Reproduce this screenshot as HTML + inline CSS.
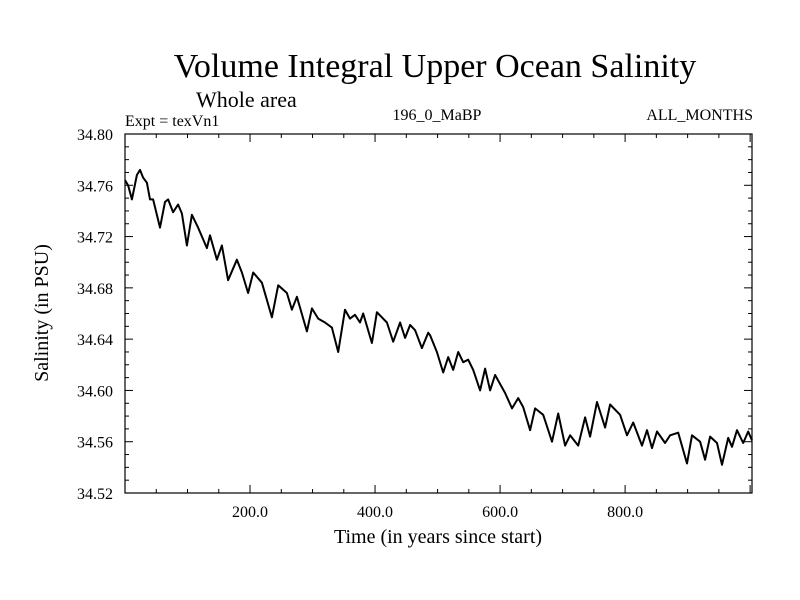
<!DOCTYPE html>
<html><head><meta charset="utf-8"><style>
html,body{margin:0;padding:0;background:#fff;}
svg{display:block;font-family:"Liberation Serif",serif;}
</style></head><body>
<svg id="chart" width="800" height="600" xmlns="http://www.w3.org/2000/svg">
<text x="435" y="77" font-size="34" text-anchor="middle">Volume Integral Upper Ocean Salinity</text>
<text x="196" y="107" font-size="22">Whole area</text>
<text x="125" y="126" font-size="16">Expt = texVn1</text>
<text x="437" y="120" font-size="16" text-anchor="middle">196_0_MaBP</text>
<text x="753" y="120" font-size="16" text-anchor="end">ALL_MONTHS</text>
<text transform="translate(48,313) rotate(-90)" font-size="20" text-anchor="middle">Salinity (in PSU)</text>
<text x="438" y="543" font-size="20" text-anchor="middle">Time (in years since start)</text>
<g id="axes"></g>
<rect x="125" y="134" width="627" height="359" fill="none" stroke="#000" stroke-width="1.2"/>
<path id="line" fill="none" stroke="#000" stroke-width="2" stroke-linejoin="round"/>
</svg>
<script>
const years=[0,5,11,19,24,29,35,40,45,56,64,69,77,85,91,99,107,117,131,136,147,155,165,179,187,197,205,219,235,245,259,267,275,291,299,309,320,331,341,352,360,368,376,381,395,403,419,429,440,448,456,464,475,485,488,499,509,517,525,533,541,549,557,568,576,584,592,608,619,629,637,648,656,669,683,693,704,712,725,736,744,755,768,776,792,803,813,827,835,843,851,864,872,885,899,907,920,928,936,947,955,965,971,979,989,997,1003];
const salinity=[34.764,34.760,34.749,34.768,34.772,34.766,34.762,34.749,34.749,34.727,34.747,34.749,34.739,34.745,34.738,34.713,34.737,34.727,34.711,34.721,34.702,34.713,34.686,34.702,34.692,34.676,34.692,34.684,34.657,34.682,34.676,34.663,34.673,34.646,34.664,34.656,34.653,34.649,34.630,34.663,34.656,34.659,34.653,34.660,34.637,34.661,34.653,34.638,34.653,34.641,34.651,34.647,34.633,34.645,34.643,34.630,34.614,34.626,34.616,34.630,34.622,34.624,34.616,34.600,34.617,34.600,34.612,34.598,34.586,34.594,34.587,34.569,34.586,34.581,34.560,34.582,34.557,34.565,34.557,34.579,34.564,34.591,34.571,34.589,34.581,34.565,34.575,34.557,34.569,34.555,34.568,34.559,34.565,34.567,34.543,34.565,34.560,34.546,34.564,34.559,34.542,34.563,34.556,34.569,34.559,34.568,34.561];
const yTicks=[34.52,34.56,34.60,34.64,34.68,34.72,34.76,34.80];
const yTickLabels=["34.52","34.56","34.60","34.64","34.68","34.72","34.76","34.80"];
const xTicks=[200,400,600,800];
const xTickLabels=["200.0","400.0","600.0","800.0"];
const X0=125,X1=752,Y0=493,Y1=134,XMIN=0,XMAX=1003,YMIN=34.52,YMAX=34.80;
const sx=v=>X0+(v-XMIN)/(XMAX-XMIN)*(X1-X0);
const sy=v=>Y0-(v-YMIN)/(YMAX-YMIN)*(Y0-Y1);
const NS="http://www.w3.org/2000/svg";
const g=document.getElementById('axes');
function ln(x1,y1,x2,y2,name){const l=document.createElementNS(NS,'line');
l.setAttribute('x1',x1);l.setAttribute('y1',y1);l.setAttribute('x2',x2);l.setAttribute('y2',y2);
l.setAttribute('stroke','#000');l.setAttribute('stroke-width','1');


g.appendChild(l);}
function tx(x,y,s,anchor,name){const t=document.createElementNS(NS,'text');
t.setAttribute('x',x);t.setAttribute('y',y);t.setAttribute('font-size','16');t.setAttribute('text-anchor',anchor);t.textContent=s;


g.appendChild(t);}
for(let v=YMIN;v<=YMAX+1e-9;v+=0.01){const y=sy(v);const major=Math.abs(Math.round(v*100)%4)===0;const L=major?8:4;
ln(X0,y,X0+L,y,'y-tick');ln(X1-L,y,X1,y,'y-tick-right');}
yTicks.forEach((v,i)=>tx(113,sy(v)+6,yTickLabels[i],'end','y-tick-label'));
for(let v=50;v<XMAX;v+=50){const x=sx(v);const L=(v%200===0)?8:4;ln(x,Y0,x,Y0-L,'x-tick');ln(x,Y1,x,Y1+L,'x-tick-top');}
xTicks.forEach((v,i)=>tx(sx(v),517,xTickLabels[i],'middle','x-tick-label'));
document.getElementById('line').setAttribute('d',years.map((y,i)=>(i?'L':'M')+sx(y).toFixed(1)+','+sy(salinity[i]).toFixed(1)).join(''));
</script>
</body></html>
